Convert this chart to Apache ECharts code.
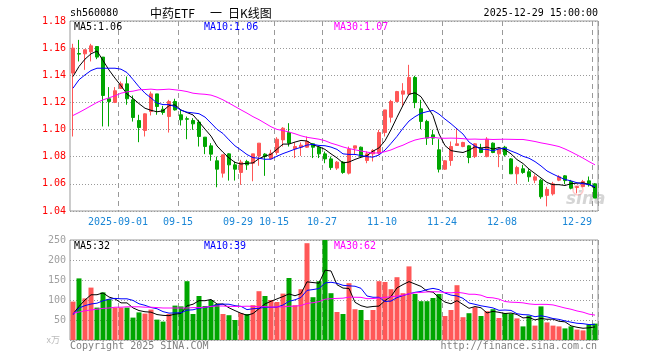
<!DOCTYPE html>
<html>
<head>
<meta charset="utf-8">
<script src="https://cdn.jsdelivr.net/npm/echarts@6/dist/echarts.min.js"></script>
<style>
html,body{margin:0;padding:0;background:#fff;}
#chart{width:660px;height:360px;}
</style>
</head>
<body>
<div id="chart"></div>
<script>
const dates = [
'2025-08-20','2025-08-21','2025-08-22','2025-08-25','2025-08-26','2025-08-27','2025-08-28','2025-08-29',
'2025-09-01','2025-09-02','2025-09-03','2025-09-04','2025-09-05',
'2025-09-08','2025-09-09','2025-09-10','2025-09-11','2025-09-12',
'2025-09-15','2025-09-16','2025-09-17','2025-09-18','2025-09-19',
'2025-09-22','2025-09-23','2025-09-24','2025-09-25','2025-09-26',
'2025-09-29','2025-09-30','2025-10-09','2025-10-10',
'2025-10-13','2025-10-14','2025-10-15','2025-10-16','2025-10-17',
'2025-10-20','2025-10-21','2025-10-22','2025-10-23','2025-10-24',
'2025-10-27','2025-10-28','2025-10-29','2025-10-30','2025-10-31',
'2025-11-03','2025-11-04','2025-11-05','2025-11-06','2025-11-07',
'2025-11-10','2025-11-11','2025-11-12','2025-11-13','2025-11-14',
'2025-11-17','2025-11-18','2025-11-19','2025-11-20','2025-11-21',
'2025-11-24','2025-11-25','2025-11-26','2025-11-27','2025-11-28',
'2025-12-01','2025-12-02','2025-12-03','2025-12-04','2025-12-05',
'2025-12-08','2025-12-09','2025-12-10','2025-12-11','2025-12-12',
'2025-12-15','2025-12-16','2025-12-17','2025-12-18','2025-12-19',
'2025-12-22','2025-12-23','2025-12-24','2025-12-25','2025-12-26',
'2025-12-29'];

const opens = [1.1416,1.1560,1.1558,1.1573,1.1612,1.1534,1.1227,1.1200,1.1303,1.1337,
1.1219,1.1067,1.0993,1.1133,1.1263,1.1150,1.1096,1.1207,1.1109,1.1080,
1.1067,1.1055,1.0944,1.0880,1.0770,1.0679,1.0821,1.0740,1.0684,1.0765,
1.0752,1.0806,1.0819,1.0785,1.0831,1.0924,1.0978,1.0858,1.0870,1.0870,
1.0895,1.0870,1.0821,1.0784,1.0716,1.0760,1.0679,1.0863,1.0870,1.0772,
1.0821,1.0826,1.0978,1.1091,1.1207,1.1261,1.1261,1.1384,1.1153,1.1060,
1.0961,1.0851,1.0708,1.0772,1.0883,1.0875,1.0880,1.0801,1.0863,1.0801,
1.0900,1.0821,1.0870,1.0784,1.0674,1.0711,1.0689,1.0627,1.0627,1.0515,
1.0526,1.0627,1.0659,1.0617,1.0573,1.0580,1.0622,1.0600];

const closes = [1.1600,1.1556,1.1588,1.1617,1.1534,1.1251,1.1207,1.1286,1.1337,1.1227,
1.1089,1.1015,1.1116,1.1263,1.1170,1.1126,1.1207,1.1145,1.1072,1.1076,
1.1042,1.0949,1.0875,1.0819,1.0708,1.0814,1.0740,1.0708,1.0760,1.0740,
1.0821,1.0900,1.0801,1.0826,1.0929,1.1010,1.0900,1.0875,1.0885,1.0912,
1.0870,1.0821,1.0784,1.0720,1.0760,1.0684,1.0856,1.0880,1.0801,1.0821,
1.0846,1.0978,1.1145,1.1207,1.1280,1.1285,1.1384,1.1199,1.1060,1.0937,
1.0937,1.0708,1.0770,1.0875,1.0895,1.0905,1.0794,1.0895,1.0831,1.0929,
1.0831,1.0856,1.0814,1.0674,1.0720,1.0684,1.0652,1.0652,1.0505,1.0559,
1.0600,1.0652,1.0624,1.0568,1.0580,1.0617,1.0593,1.0495];

const lows = [1.0949,1.1502,1.1440,1.1502,1.1519,1.1023,1.1023,1.1195,1.1300,1.1183,
1.1059,1.0907,1.0949,1.1104,1.1109,1.1109,1.0978,1.1140,1.1030,1.0929,
1.0998,1.0875,1.0819,1.0770,1.0575,1.0646,1.0624,1.0624,1.0593,1.0703,
1.0619,1.0733,1.0659,1.0780,1.0814,1.0875,1.0875,1.0790,1.0806,1.0865,
1.0790,1.0790,1.0752,1.0703,1.0703,1.0674,1.0669,1.0814,1.0790,1.0752,
1.0765,1.0814,1.0949,1.1052,1.1200,1.1170,1.1256,1.1158,1.1003,1.0887,
1.0887,1.0684,1.0703,1.0733,1.0880,1.0870,1.0752,1.0790,1.0826,1.0796,
1.0826,1.0723,1.0801,1.0674,1.0600,1.0674,1.0615,1.0605,1.0490,1.0434,
1.0514,1.0620,1.0598,1.0560,1.0530,1.0575,1.0580,1.0495];

const highs = [1.1632,1.1661,1.1590,1.1632,1.1615,1.1534,1.1313,1.1313,1.1354,1.1391,
1.1251,1.1109,1.1120,1.1280,1.1263,1.1175,1.1219,1.1227,1.1145,1.1096,
1.1084,1.1072,1.0944,1.0900,1.0801,1.0814,1.0826,1.0765,1.0777,1.0777,
1.0821,1.0900,1.0826,1.0851,1.0944,1.1018,1.1047,1.0905,1.0905,1.0949,
1.0900,1.0875,1.0838,1.0801,1.0768,1.0768,1.0875,1.0880,1.0875,1.0838,
1.0856,1.0998,1.1145,1.1219,1.1285,1.1342,1.1477,1.1396,1.1219,1.1072,
1.0998,1.0929,1.0775,1.0912,1.1010,1.0910,1.0885,1.0900,1.0895,1.0944,
1.0905,1.0863,1.0880,1.0790,1.0733,1.0740,1.0708,1.0669,1.0637,1.0578,
1.0615,1.0664,1.0664,1.0629,1.0580,1.0629,1.0654,1.0605];

const volumes = [96,154,104,131,81,119,102,81,81,81,
56,69,66,76,51,46,65,86,84,147,
65,110,85,100,90,65,62,50,67,65,
87,122,110,100,95,116,155,87,127,242,
107,147,250,117,70,65,142,77,75,50,
75,147,145,127,157,117,184,115,97,97,
105,115,60,75,137,57,67,82,60,72,
77,55,67,66,54,34,61,36,84,44,
36,34,29,34,26,24,39,41];

// moving-average values before a full window exists
const ma5Head = [1.1391,1.1465,1.1519,1.1558];
const ma10Head = [1.1305,1.1367,1.1403,1.1435,1.1452,1.1452,1.1452,1.1452,1.1445];
const ma30Head = [1.1104,1.1126,1.1150,1.1175,1.1200,1.1219,1.1234,1.1249,1.1268,1.1278,
1.1283,1.1293,1.1295,1.1298,1.1293,1.1295,1.1298,1.1293,1.1288,1.1280,
1.1268,1.1263,1.1260,1.1254,1.1239,1.1219,1.1195,1.1170,1.1145];
const vma5Head = [65,84,100,113];
const vma10Head = [63,80,86,90,92,98,102,104,103];
const vma30Head = [67,70,73,75,77,79,80,82,82,83,83,83,82,82,81,80,80,80,80,80,81,81,82,84,85,85,84,84,84];

const xTickDates = ['2025-09-01','2025-09-15','2025-09-29','2025-10-15','2025-10-27','2025-11-10','2025-11-24','2025-12-08','2025-12-29'];
const xTickLabels = ['2025-09-01','09-15','09-29','10-15','10-27','11-10','11-24','12-08','12-29'];
const priceTicks = {min:1.04, max:1.18, step:0.02};
const volTicks = {min:0, max:250, step:50};
const priceLegend = ['MA5:1.06','MA10:1.06','MA30:1.07'];
const volLegend = ['MA5:32','MA10:39','MA30:62'];

function ma(values, n, head, dec) {
  return values.map(function (v, i) {
    if (i < n - 1) return head[i];
    let s = 0;
    for (let k = i - n + 1; k <= i; k++) s += values[k];
    return +(s / n).toFixed(dec);
  });
}

const RED = '#ff5757', GREEN = '#00a600';
const MONO = '"DejaVu Sans Mono", monospace';
const CJK = '"Noto Sans CJK SC", sans-serif';
const tickIdx = new Set(xTickDates.map(d => dates.indexOf(d)));
const labelMap = {};
xTickDates.forEach((d, i) => labelMap[d] = xTickLabels[i]);
const lastIdx = dates.length - 1;

const candleData = dates.map((d, i) => [opens[i], closes[i], lows[i], highs[i]]);
const volData = volumes.map((v, i) => ({value: v, itemStyle: {color: closes[i] >= opens[i] ? RED : GREEN}}));

const vSplit = {show: true, interval: (i) => tickIdx.has(i), lineStyle: {color: '#999', type: [5, 4], width: 1}};

function lineSeries(name, data, color, xi) {
  return {name: name, type: 'line', data: data, xAxisIndex: xi, yAxisIndex: xi, symbol: 'none', showSymbol: false,
    lineStyle: {color: color, width: 1}, itemStyle: {color: color}, z: 5, silent: true};
}

function txt(t, x, y, color, font, align) {
  return {type: 'text', x: x, y: y, z: 100,
    style: {text: t, fill: color, font: font || ('10px ' + MONO), textAlign: align || 'left', textVerticalAlign: 'middle'}};
}

const option = {
  animation: false,
  backgroundColor: '#fff',
  grid: [
    {left: 70, top: 21, width: 528, height: 190, show: true, borderColor: '#999', borderWidth: 1, backgroundColor: 'transparent'},
    {left: 70, top: 240, width: 528, height: 100, show: true, borderColor: '#999', borderWidth: 1, backgroundColor: 'transparent'}
  ],
  xAxis: [
    {type: 'category', gridIndex: 0, data: dates, boundaryGap: true,
     axisLine: {show: false}, axisTick: {show: false},
     axisLabel: {interval: (i) => tickIdx.has(i), margin: 6,
       formatter: function (v, i) { return (i === lastIdx ? '{e|' : '{n|') + labelMap[v] + '}'; },
       rich: {
         n: {padding: [0, 6, 0, 0], color: '#1a86d6', fontFamily: MONO, fontSize: 10},
         e: {padding: [0, 36, 0, 0], color: '#1a86d6', fontFamily: MONO, fontSize: 10}
       }},
     splitLine: vSplit},
    {type: 'category', gridIndex: 1, data: dates, boundaryGap: true,
     axisLine: {show: false}, axisTick: {show: false}, axisLabel: {show: false},
     splitLine: vSplit}
  ],
  yAxis: [
    {type: 'value', gridIndex: 0, min: priceTicks.min, max: priceTicks.max, interval: priceTicks.step, scale: true,
     axisLine: {show: false}, axisTick: {show: false},
     axisLabel: {color: '#ff0000', fontFamily: MONO, fontSize: 10, margin: 4, formatter: v => v.toFixed(2)},
     splitLine: {show: true, lineStyle: {color: '#999', type: [1, 2], width: 1}}},
    {type: 'value', gridIndex: 1, min: volTicks.min, max: volTicks.max, interval: volTicks.step,
     axisLine: {show: false}, axisTick: {show: false},
     axisLabel: {color: '#a0a0a0', fontFamily: MONO, fontSize: 10, margin: 4,
       formatter: v => v === 0 ? '{u|x万}' : String(v),
       rich: {u: {fontSize: 9, color: '#bbb', fontFamily: CJK, padding: [0, 6, 0, 0]}}},
     splitLine: {show: true, lineStyle: {color: '#999', type: [1, 2], width: 1}}}
  ],
  series: [
    {name: 'K', type: 'candlestick', data: candleData, xAxisIndex: 0, yAxisIndex: 0, barWidth: 4,
     itemStyle: {color: RED, color0: GREEN, borderColor: RED, borderColor0: GREEN, borderWidth: 1}, z: 3},
    lineSeries('MA5', ma(closes, 5, ma5Head, 4), '#000000', 0),
    lineSeries('MA10', ma(closes, 10, ma10Head, 4), '#0000ff', 0),
    lineSeries('MA30', ma(closes, 30, ma30Head, 4), '#ff00ff', 0),
    {name: 'VOL', type: 'bar', data: volData, xAxisIndex: 1, yAxisIndex: 1, barWidth: 5, z: 3},
    lineSeries('VMA5', ma(volumes, 5, vma5Head, 1), '#000000', 1),
    lineSeries('VMA10', ma(volumes, 10, vma10Head, 1), '#0000ff', 1),
    lineSeries('VMA30', ma(volumes, 30, vma30Head, 1), '#ff00ff', 1)
  ],
  graphic: [
    txt('sh560080', 70, 13, '#000'),
    txt('中药ETF', 150, 13, '#000', '12px ' + CJK),
    txt('一', 210, 13, '#000', '12px ' + CJK),
    txt('日K线图', 228, 13, '#000', '12px ' + CJK),
    txt('2025-12-29 15:00:00', 598, 13, '#000', null, 'right'),
    txt(priceLegend[0], 74, 27, '#000'),
    txt(priceLegend[1], 204, 27, '#0000ff'),
    txt(priceLegend[2], 334, 27, '#ff00ff'),
    txt(volLegend[0], 74, 246, '#000'),
    txt(volLegend[1], 204, 246, '#0000ff'),
    txt(volLegend[2], 334, 246, '#ff00ff'),
    txt('Copyright 2025 SINA.COM', 70, 346, '#808080'),
    txt('http://finance.sina.com.cn', 597, 346, '#808080', null, 'right'),
    {type: 'circle', shape: {cx: 578, cy: 190, r: 5}, z: 1, style: {fill: 'none', stroke: 'rgba(255,120,120,0.4)', lineWidth: 1.5}},
    {type: 'text', x: 566, y: 200, z: 1, style: {text: 'sina', fill: 'rgba(150,150,150,0.4)', font: 'italic bold 17px "DejaVu Sans", sans-serif', textVerticalAlign: 'middle'}}
  ]
};

const chart = echarts.init(document.getElementById('chart'), null, {renderer: 'canvas', width: 660, height: 360});
chart.setOption(option);
</script>
</body>
</html>
